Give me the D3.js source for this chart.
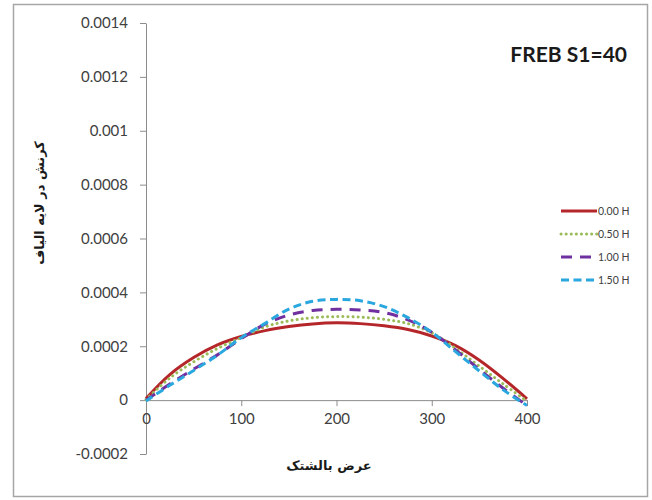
<!DOCTYPE html>
<html>
<head>
<meta charset="utf-8">
<script src="https://cdn.jsdelivr.net/npm/d3@7"></script>
<style>
  body { margin: 0; background: #fff; }
  .axis path, .axis line { stroke: #8c8c8c; }
  .axis text { fill: #404040; font-family: Lato, "Open Sans", sans-serif; font-size: 15px; }
</style>
</head>
<body>
<script>
// distance across the width (x) and strain for each depth
var xValues = [0, 25, 50, 75, 100, 125, 150, 175, 200, 225, 250, 275, 300, 325, 350, 375, 400];
var h000 = [0.000006, 0.000095, 0.000158, 0.000205, 0.000236, 0.000258, 0.000273, 0.000283, 0.000287, 0.000284, 0.000276, 0.000262, 0.000238, 0.000202, 0.000148, 0.000080, 0.000005];
var h050 = [0.000002, 0.000082, 0.000142, 0.000192, 0.000232, 0.000272, 0.000294, 0.000306, 0.000310, 0.000308, 0.000300, 0.000284, 0.000250, 0.000192, 0.000126, 0.000060, -0.000004];
var h100 = [0.000000, 0.000060, 0.000115, 0.000168, 0.000228, 0.000282, 0.000316, 0.000333, 0.000337, 0.000335, 0.000325, 0.000298, 0.000252, 0.000186, 0.000114, 0.000044, -0.000020];
var h150 = [-0.000003, 0.000055, 0.000110, 0.000167, 0.000232, 0.000285, 0.000338, 0.000367, 0.000374, 0.000369, 0.000347, 0.000306, 0.000252, 0.000180, 0.000108, 0.000038, -0.000020];
var seriesNames = ["0.00 H", "0.50 H", "1.00 H", "1.50 H"];
var xTicks = [0, 100, 200, 300, 400];
var yTicks = [-0.0002, 0, 0.0002, 0.0004, 0.0006, 0.0008, 0.001, 0.0012, 0.0014];

var series = [
  {name: seriesNames[0], values: h000, color: "#b5262a", dash: null, cap: "butt"},
  {name: seriesNames[1], values: h050, color: "#9bbb59", dash: "0.1,5", cap: "round"},
  {name: seriesNames[2], values: h100, color: "#7030a0", dash: "11,8", cap: "butt"},
  {name: seriesNames[3], values: h150, color: "#2aa7df", dash: "8,4.5", cap: "butt"}
];

var svg = d3.select("body").append("svg")
  .attr("width", 652)
  .attr("height", 500);

// outer frame
svg.append("rect")
  .attr("x", 13.5).attr("y", 4.5)
  .attr("width", 634).attr("height", 492)
  .attr("fill", "#fff")
  .attr("stroke", "#a6a6a6")
  .attr("stroke-width", 1.5);

var x = d3.scaleLinear().domain([0, 400]).range([146, 527]);
var y = d3.scaleLinear().domain([-0.0002, 0.0014]).range([454, 23]);

// y axis
svg.append("g")
  .attr("class", "axis")
  .attr("transform", "translate(" + x(0) + ",0)")
  .call(d3.axisLeft(y).tickValues(yTicks).tickSizeInner(6).tickSizeOuter(0).tickPadding(12)
    .tickFormat(function(d) { return String(+d.toFixed(4)); }));

// x axis sits on zero strain
svg.append("g")
  .attr("class", "axis")
  .attr("transform", "translate(0," + y(0) + ")")
  .call(d3.axisBottom(x).tickValues(xTicks).tickSizeInner(6).tickSizeOuter(0).tickPadding(7));

var line = d3.line()
  .x(function(d, i) { return x(xValues[i]); })
  .y(function(d) { return y(d); })
  .curve(d3.curveCatmullRom.alpha(0.5));

svg.append("g")
  .selectAll("path")
  .data(series)
  .enter()
  .append("path")
  .attr("d", function(d) { return line(d.values); })
  .attr("fill", "none")
  .attr("stroke", function(d) { return d.color; })
  .attr("stroke-width", 3)
  .attr("stroke-linecap", function(d) { return d.cap; })
  .attr("stroke-dasharray", function(d) { return d.dash; });

// legend
var legend = svg.append("g")
  .selectAll("g")
  .data(series)
  .enter()
  .append("g")
  .attr("transform", function(d, i) { return "translate(561," + (211 + i * 23) + ")"; });

legend.append("line")
  .attr("x1", 0).attr("x2", 36)
  .attr("stroke", function(d) { return d.color; })
  .attr("stroke-width", 3)
  .attr("stroke-linecap", function(d) { return d.cap; })
  .attr("stroke-dasharray", function(d) { return d.dash; });

legend.append("text")
  .attr("x", 37)
  .attr("dy", "0.35em")
  .attr("fill", "#404040")
  .style("font-family", "Lato, sans-serif")
  .style("font-size", "10.5px")
  .text(function(d) { return d.name; });

// title
svg.append("text")
  .attr("x", 627).attr("y", 62)
  .attr("text-anchor", "end")
  .attr("fill", "#1a1a1a")
  .style("font-family", "Lato, sans-serif")
  .style("font-weight", "bold")
  .style("font-size", "21px")
  .text("FREB S1=40");

// axis titles
svg.append("text")
  .attr("x", 329).attr("y", 470)
  .attr("text-anchor", "middle")
  .attr("fill", "#1a1a1a")
  .style("font-family", "'DejaVu Sans', sans-serif")
  .style("font-weight", "bold")
  .style("font-size", "13px")
  .text("عرض بالشتک");

svg.append("text")
  .attr("transform", "translate(44,203) rotate(-90)")
  .attr("text-anchor", "middle")
  .attr("fill", "#1a1a1a")
  .style("font-family", "'DejaVu Sans', sans-serif")
  .style("font-weight", "bold")
  .style("font-size", "13px")
  .text("کرنش در لایه الیاف");
</script>
</body>
</html>
